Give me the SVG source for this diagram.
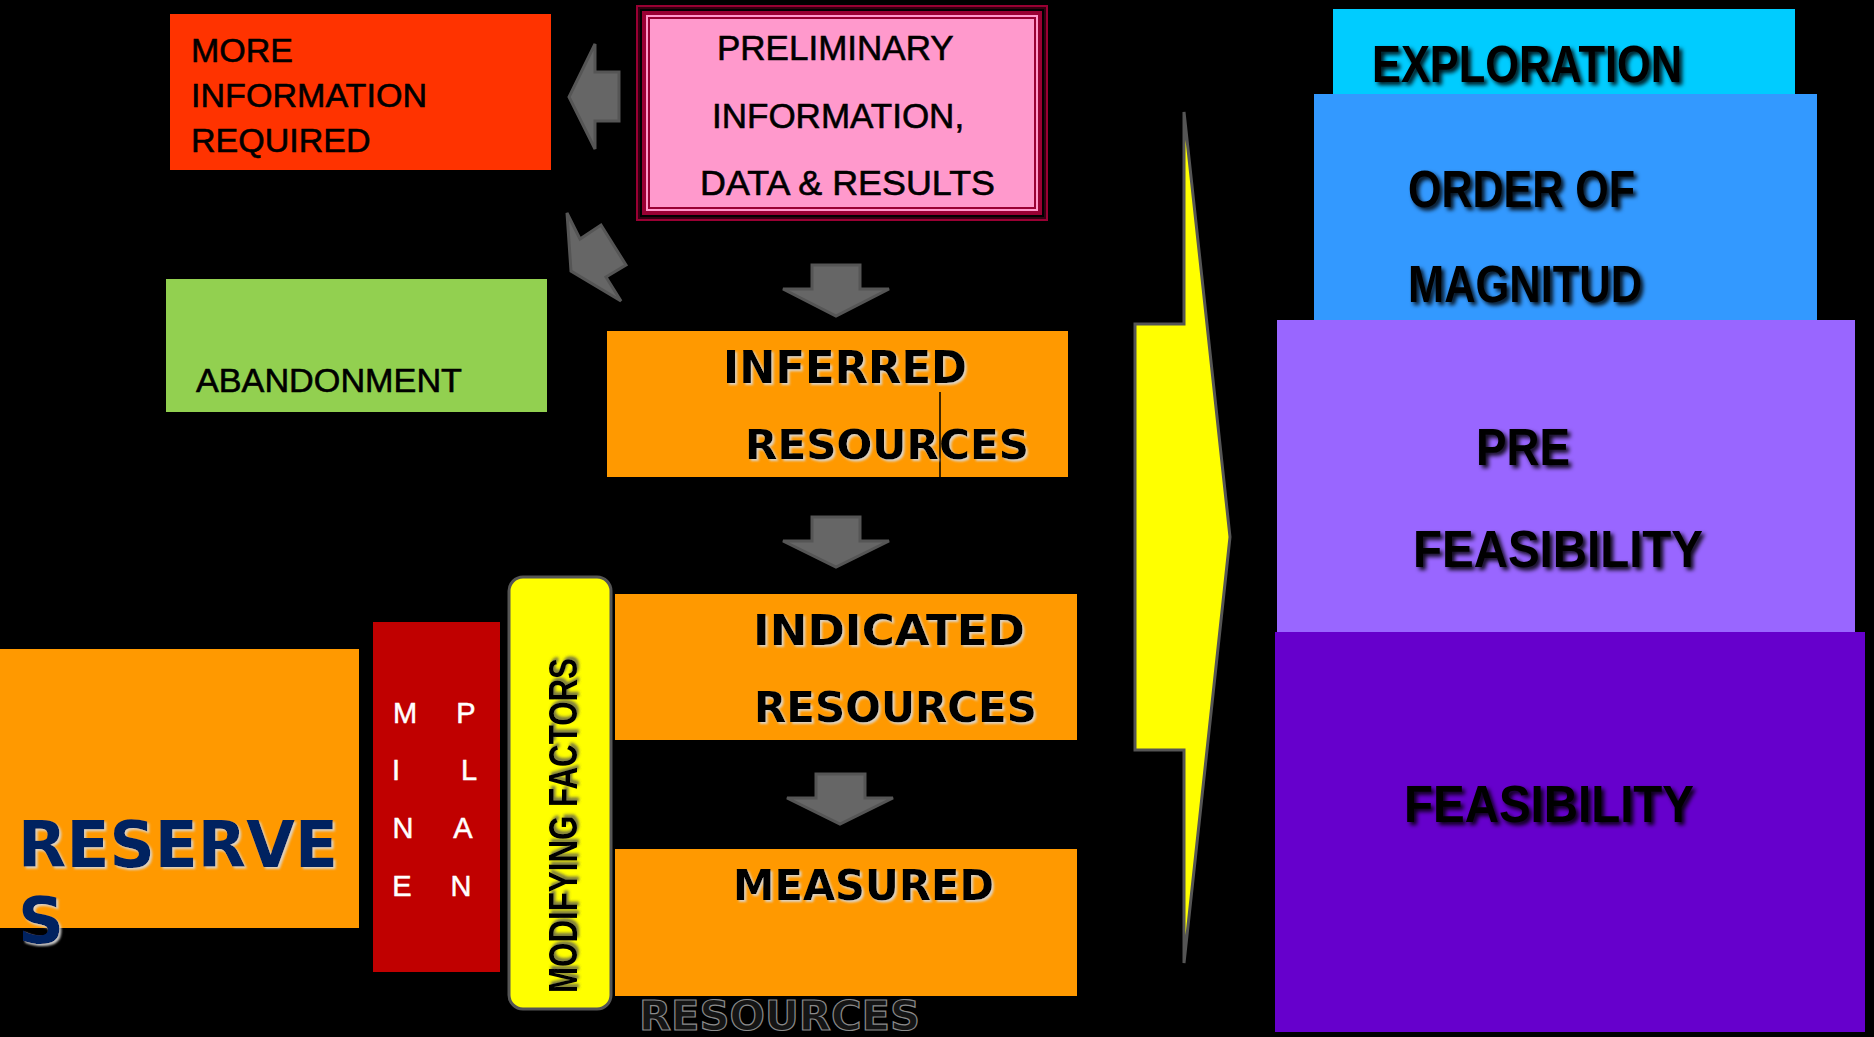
<svg xmlns="http://www.w3.org/2000/svg" width="1874" height="1037" viewBox="0 0 1874 1037">
<defs>
<style>
.sans{font-family:"Liberation Sans",Arial,sans-serif;fill:#000;stroke:#000;stroke-width:0.6}
.vb{font-family:"DejaVu Sans",Verdana,sans-serif;font-weight:bold;fill:#000}
.nb{font-family:"Liberation Sans",Arial,sans-serif;font-weight:bold;fill:#000}
.orange{fill:#ff9900}
.garrow{fill:#666666;stroke:#555555;stroke-width:3;stroke-linejoin:miter}
.ml{font-family:"Liberation Sans",Arial,sans-serif;fill:#ffffff;stroke:#ffffff;stroke-width:0.5;font-size:29px;text-anchor:middle}
</style>
<filter id="lightShadow" x="-10%" y="-30%" width="120%" height="160%">
<feDropShadow dx="2" dy="2" stdDeviation="1" flood-color="#d9d9d9" flood-opacity="0.9"/>
</filter>
<filter id="darkShadow" x="-10%" y="-30%" width="120%" height="160%">
<feDropShadow dx="3" dy="3" stdDeviation="2" flood-color="#000000" flood-opacity="0.9"/>
</filter>
<filter id="greyShadow" x="-30%" y="-10%" width="160%" height="120%">
<feDropShadow dx="3" dy="2" stdDeviation="1.5" flood-color="#555555" flood-opacity="0.8"/>
</filter>
</defs>
<rect x="0" y="0" width="1874" height="1037" fill="#000000"/>

<g id="node-more-info">
<rect x="170" y="14" width="381" height="156" fill="#ff3300"/>
<text class="sans" font-size="34" x="191" y="62">MORE</text>
<text class="sans" font-size="34" x="191" y="107" textLength="236" lengthAdjust="spacingAndGlyphs">INFORMATION</text>
<text class="sans" font-size="34" x="191" y="152">REQUIRED</text>
</g>

<g id="node-preliminary">
<rect x="636" y="5" width="412" height="216" fill="#990033"/>
<rect x="638" y="7" width="408" height="212" fill="#330011"/>
<rect x="640" y="9" width="404" height="208" fill="#000000"/>
<rect x="642" y="11" width="400" height="204" fill="#990033"/>
<rect x="646" y="15" width="392" height="196" fill="#ff99cc"/>
<rect x="648" y="17" width="388" height="192" fill="#990033"/>
<rect x="650" y="19" width="384" height="188" fill="#ff99cc"/>
<text class="sans" font-size="35" x="717" y="60">PRELIMINARY</text>
<text class="sans" font-size="35" x="712" y="128">INFORMATION,</text>
<text class="sans" font-size="35" x="700" y="195" textLength="295" lengthAdjust="spacingAndGlyphs">DATA &amp; RESULTS</text>
</g>

<g id="node-abandonment">
<rect x="166" y="279" width="381" height="133" fill="#92d050"/>
<text class="sans" font-size="34" x="196" y="392" textLength="266" lengthAdjust="spacingAndGlyphs">ABANDONMENT</text>
</g>

<g id="node-inferred">
<rect class="orange" x="607" y="331" width="461" height="146"/>
<line x1="940" y1="392" x2="940" y2="477" stroke="#000" stroke-width="1.5"/>
<text class="vb" font-size="44" x="723" y="383" textLength="244" lengthAdjust="spacingAndGlyphs" filter="url(#lightShadow)">INFERRED</text>
<text class="vb" font-size="41" x="745" y="459" textLength="284" lengthAdjust="spacingAndGlyphs" filter="url(#lightShadow)">RESOURCES</text>
</g>

<g id="node-indicated">
<rect class="orange" x="615" y="594" width="462" height="146"/>
<text class="vb" font-size="42" x="753" y="645" textLength="272" lengthAdjust="spacingAndGlyphs" filter="url(#lightShadow)">INDICATED</text>
<text class="vb" font-size="42" x="754" y="722" textLength="283" lengthAdjust="spacingAndGlyphs" filter="url(#lightShadow)">RESOURCES</text>
</g>

<g id="node-measured">
<rect class="orange" x="615" y="849" width="462" height="147"/>
<text class="vb" font-size="42" x="733" y="900" textLength="261" lengthAdjust="spacingAndGlyphs" filter="url(#lightShadow)">MEASURED</text>
<text class="vb" font-size="41" x="639" y="1030" textLength="281" lengthAdjust="spacingAndGlyphs" style="fill:#151515;stroke:#8a8a8a;stroke-width:1.2">RESOURCES</text>
</g>

<g id="node-reserves">
<rect class="orange" x="0" y="649" width="359" height="279"/>
<text class="vb" font-size="64" x="18" y="867" textLength="320" lengthAdjust="spacingAndGlyphs" style="fill:#002060" filter="url(#lightShadow)">RESERVE</text>
<text class="vb" font-size="64" x="18" y="943" style="fill:#002060" filter="url(#lightShadow)">S</text>
</g>

<g id="node-mine-plan">
<rect x="373" y="622" width="127" height="350" fill="#c00000"/>
<text class="ml" x="405" y="723">M</text>
<text class="ml" x="466" y="723">P</text>
<text class="ml" x="396" y="780">I</text>
<text class="ml" x="469" y="780">L</text>
<text class="ml" x="403" y="838">N</text>
<text class="ml" x="463" y="838">A</text>
<text class="ml" x="402" y="896">E</text>
<text class="ml" x="461" y="896">N</text>
</g>

<g id="node-modifying-factors">
<rect x="509" y="577" width="102" height="432" rx="14" ry="14" fill="#ffff00" stroke="#555555" stroke-width="3"/>
<text class="nb" font-size="41" transform="translate(577,993) rotate(-90)" x="0" y="0" textLength="335" lengthAdjust="spacingAndGlyphs" filter="url(#greyShadow)">MODIFYING  FACTORS</text>
</g>

<g id="node-exploration">
<rect x="1333" y="9" width="462" height="90" fill="#00ccff"/>
<text class="nb" font-size="52" x="1372" y="82" textLength="310" lengthAdjust="spacingAndGlyphs" filter="url(#darkShadow)">EXPLORATION</text>
</g>

<g id="node-order-of-magnitude">
<rect x="1314" y="94" width="503" height="230" fill="#3399ff"/>
<text class="nb" font-size="51" x="1408" y="207" textLength="227" lengthAdjust="spacingAndGlyphs" filter="url(#darkShadow)">ORDER OF</text>
<text class="nb" font-size="51" x="1408" y="302" textLength="234" lengthAdjust="spacingAndGlyphs" filter="url(#darkShadow)">MAGNITUD</text>
</g>

<g id="node-pre-feasibility">
<rect x="1277" y="320" width="578" height="316" fill="#9966ff"/>
<text class="nb" font-size="51" x="1476" y="465" textLength="94" lengthAdjust="spacingAndGlyphs" filter="url(#darkShadow)">PRE</text>
<text class="nb" font-size="51" x="1413" y="567" textLength="290" lengthAdjust="spacingAndGlyphs" filter="url(#darkShadow)">FEASIBILITY</text>
</g>

<g id="node-feasibility">
<rect x="1275" y="632" width="590" height="400" fill="#6600cc"/>
<text class="nb" font-size="51" x="1404" y="822" textLength="290" lengthAdjust="spacingAndGlyphs" filter="url(#darkShadow)">FEASIBILITY</text>
</g>

<g id="connectors">
<polygon class="garrow" points="619,72 595,72 595,44 569,97 595,149 595,121 619,121"/>
<polygon class="garrow" points="567,213 580,239 601,225 626,265 606,277 621,301 571,271"/>
<polygon class="garrow" points="812,265 860,265 860,289 889,289 836,316 783,289 812,289"/>
<polygon class="garrow" points="812,517 860,517 860,541 889,541 836,567 783,541 812,541"/>
<polygon class="garrow" points="816,774 865,774 865,798 893,798 840,824 787,798 816,798"/>
<polygon points="1184,112 1230,537 1184,963 1184,750 1135,750 1135,324 1184,324" fill="#ffff00" stroke="#555555" stroke-width="3"/>
</g>
</svg>
